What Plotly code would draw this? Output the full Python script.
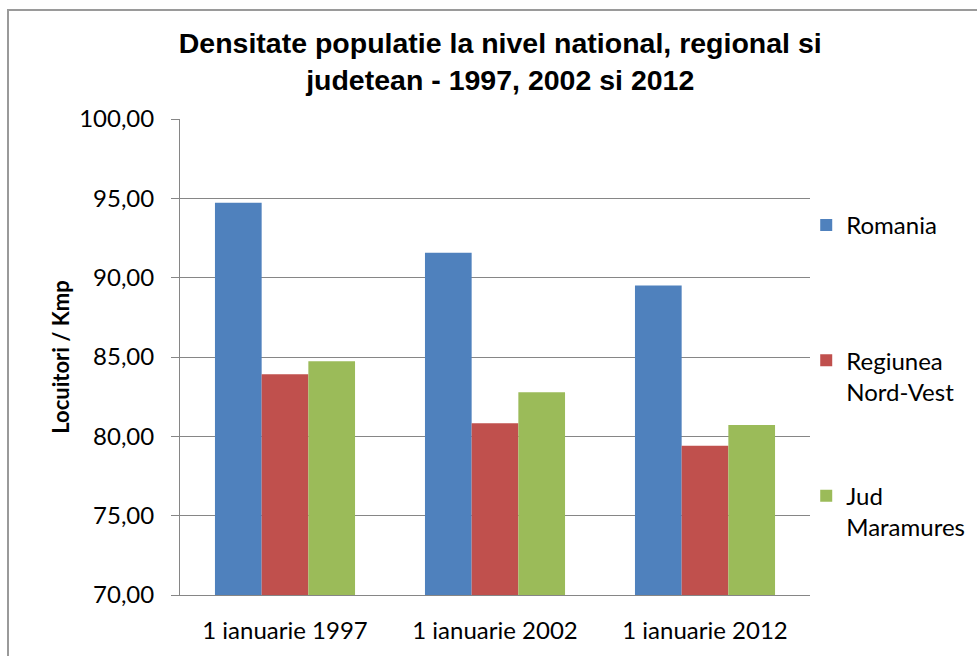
import plotly.graph_objects as go

categories = ["1 ianuarie 1997", "1 ianuarie 2002", "1 ianuarie 2012"]
series_names = ["Romania", "Regiunea<br>Nord-Vest", "Jud<br>Maramures"]
romania = [94.72, 91.57, 89.51]
nord_vest = [83.92, 80.83, 79.40]
maramures = [84.74, 82.78, 80.72]
colors = ["#4F81BD", "#C0504D", "#9BBB59"]
y_ticks = [70, 75, 80, 85, 90, 95, 100]

fig = go.Figure()
for i, (name, vals) in enumerate(zip(series_names, [romania, nord_vest, maramures])):
    label = name if "<br>" in name else name + "<br> "
    fig.add_trace(go.Bar(x=categories, y=vals, name=label, marker_color=colors[i],
                         marker_line_width=0, legendgroup=f"g{i}"))

fig.update_layout(
    width=977, height=656,
    margin=dict(l=180, r=167, t=119, b=61, autoexpand=False),
    paper_bgcolor="white", plot_bgcolor="white",
    separators=",.",
    bargap=0.333, bargroupgap=0,
    title=dict(text="<b>Densitate populatie la nivel national, regional si<br>judetean - 1997, 2002 si 2012</b>",
               x=0.512, xanchor="center", y=0.919, yanchor="middle",
               font=dict(family="Liberation Sans, Arial", size=28.5, color="black")),
    font=dict(family="Lato", size=24, color="black"),
    legend=dict(x=0.994, xanchor="left", y=0.824, yanchor="top",
                font=dict(family="Lato", size=24, color="black"),
                tracegroupgap=70, valign="top", bgcolor="rgba(0,0,0,0)"),
    xaxis=dict(showline=True, linecolor="#868686", linewidth=1, ticks="",
               tickfont=dict(family="Lato", size=24), ticklabelstandoff=14),
    yaxis=dict(range=[70, 100], tickvals=y_ticks, tickformat=".2f",
               showgrid=True, gridcolor="#868686", gridwidth=1,
               showline=True, linecolor="#868686", linewidth=1,
               ticks="outside", ticklen=8, tickcolor="#868686",
               tickfont=dict(family="Lato", size=24), ticklabelstandoff=12,
               title=dict(text="<b>Locuitori / Kmp</b>", standoff=3,
                          font=dict(family="Lato", size=22))),
    shapes=[dict(type="rect", xref="paper", yref="paper",
                 x0=(8 - 180) / 630, x1=(990 - 180) / 630,
                 y0=(595 - 670) / 476, y1=(595 - 10) / 476,
                 line=dict(color="#9a9a9a", width=2), fillcolor="rgba(0,0,0,0)", layer="below")],
)

fig.write_html("out.html")
